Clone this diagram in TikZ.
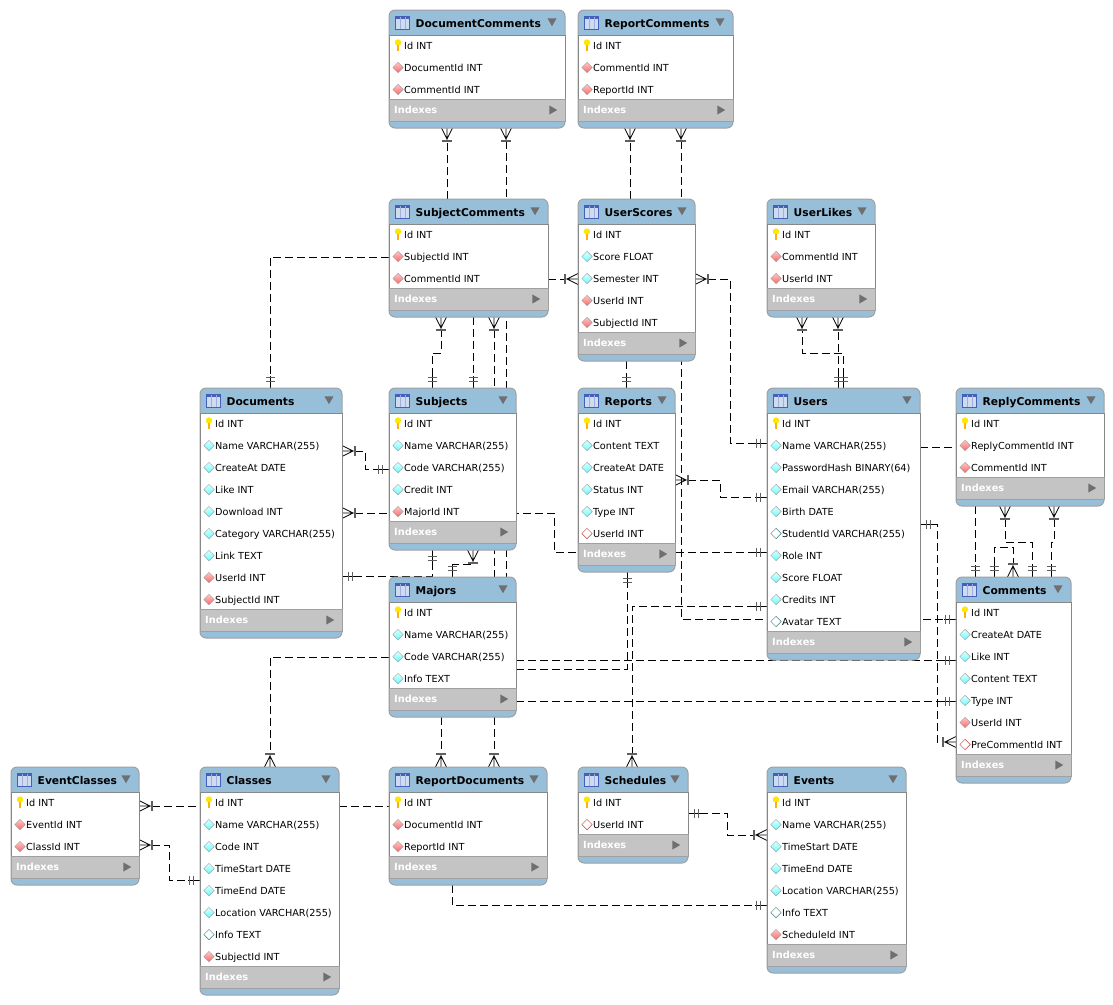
\documentclass[tikz,border=0pt]{standalone}
\usepackage{fontspec}
\setmainfont{DejaVu Sans}
\usepackage{tikz}
\usetikzlibrary{shapes.geometric, arrows.meta, positioning, calc}
\definecolor{dbblue}{RGB}{152,191,218}
\definecolor{dbgray}{RGB}{196,196,196}
\definecolor{dbedge}{RGB}{160,160,160}
\definecolor{dbside}{RGB}{135,135,135}
\definecolor{dbmark}{RGB}{95,95,95}
\definecolor{dbicon}{RGB}{70,95,185}
\definecolor{dbpale}{RGB}{205,220,240}
\pgfdeclarelayer{connectors}
\pgfsetlayers{connectors,main}

\pgfdeclarearrow{
  name=Crow,
  setup code={\pgfarrowssettipend{0pt}\pgfarrowssetlineend{-13pt}\pgfarrowssetbackend{-14pt}
    \pgfarrowshullpoint{0pt}{6pt}\pgfarrowshullpoint{0pt}{-6pt}\pgfarrowshullpoint{-14pt}{5pt}\pgfarrowshullpoint{-14pt}{-5pt}},
  drawing code={\pgfsetdash{}{0pt}\pgfsetlinewidth{0.8pt}
    \pgfpathmoveto{\pgfqpoint{0pt}{5.5pt}}\pgfpathlineto{\pgfqpoint{-11pt}{0pt}}\pgfpathlineto{\pgfqpoint{0pt}{-5.5pt}}
    \pgfpathmoveto{\pgfqpoint{-13pt}{0pt}}\pgfpathlineto{\pgfqpoint{0pt}{0pt}}\pgfusepathqstroke
    \pgfsetstrokecolor{dbmark}\pgfsetlinewidth{1.7pt}
    \pgfpathmoveto{\pgfqpoint{-13pt}{5pt}}\pgfpathlineto{\pgfqpoint{-13pt}{-5pt}}\pgfusepathqstroke}
}
\pgfdeclarearrow{
  name=Ones,
  setup code={\pgfarrowssettipend{0pt}\pgfarrowssetlineend{-12pt}\pgfarrowssetbackend{-13pt}
    \pgfarrowshullpoint{0pt}{4pt}\pgfarrowshullpoint{0pt}{-4pt}\pgfarrowshullpoint{-13pt}{4pt}\pgfarrowshullpoint{-13pt}{-4pt}},
  drawing code={\pgfsetdash{}{0pt}\pgfsetlinewidth{0.8pt}
    \pgfpathmoveto{\pgfqpoint{-12pt}{0pt}}\pgfpathlineto{\pgfqpoint{0pt}{0pt}}\pgfusepathqstroke
    \pgfsetstrokecolor{dbmark}\pgfsetlinewidth{1.3pt}
    \pgfpathmoveto{\pgfqpoint{-10.5pt}{4.5pt}}\pgfpathlineto{\pgfqpoint{-10.5pt}{-4.5pt}}
    \pgfpathmoveto{\pgfqpoint{-6.5pt}{4.5pt}}\pgfpathlineto{\pgfqpoint{-6.5pt}{-4.5pt}}\pgfusepathqstroke}
}

% name, left, top, width, number of rows, title, rows
\newcommand{\dbtable}[7]{%
  \node[tablebox, minimum width=#4, minimum height={52+22*#5}, anchor=north west] (#1) at (#2,#3) {};
  \draw[tablebody] ([yshift=-25]#1.north west) rectangle ([yshift={-(23+22*#5)}]#1.north east);
  \draw[tablebar] ([yshift={-(23+22*#5)}]#1.north west) rectangle ([yshift={-(45+22*#5)}]#1.north east);
  \node[tableicon] (#1-icon) at ([xshift=13.5,yshift=-12.5]#1.north west) {};
  \node[titletext] (#1-title) at ([xshift=26.5,yshift=-17]#1.north west) {#6};
  \node[toggle, shape border rotate=180] (#1-toggle) at ([xshift=-13,yshift=-11]#1.north east) {};
  \node[indextext] (#1-index) at ([xshift=5,yshift={-(37.5+22*#5)}]#1.north west) {Indexes};
  \node[toggle, shape border rotate=-90] (#1-more) at ([xshift=-13,yshift={-(34+22*#5)}]#1.north east) {};
  \foreach \kind/\txt [count=\i] in {#7} {
    \node[rowtext] (#1-\i) at ([xshift=15,yshift={-17.5-22*\i}]#1.north west) {\txt};
    \node[style=\kind] (#1-mark-\i) at ([xshift=9,yshift={-13.5-22*\i}]#1.north west) {};
  }
}

\begin{document}
\begin{tikzpicture}[
    x=1pt, y=-1pt,
    tablebox/.style={rectangle, rounded corners=6pt, draw=dbedge, fill=dbblue, line width=1pt, inner sep=0pt, outer sep=0pt},
    tablebody/.style={draw=dbside, fill=white, line width=0.8pt},
    tablebar/.style={draw=dbedge, fill=dbgray, line width=0.8pt},
    titletext/.style={anchor=base west, inner sep=0pt, font=\fontsize{10.7}{12}\selectfont\bfseries},
    indextext/.style={anchor=base west, inner sep=0pt, text=white, font=\fontsize{9.8}{12}\selectfont\bfseries},
    rowtext/.style={anchor=base west, inner sep=0pt, font=\fontsize{9.7}{12}\selectfont},
    toggle/.style={regular polygon, regular polygon sides=3, fill=dbmark!90, inner sep=0pt, minimum size=10.5pt},
    tableicon/.style={rectangle, draw=dbicon, fill=dbpale, line width=0.8pt, inner sep=0pt,
      minimum width=14.5pt, minimum height=13pt, path picture={
        \fill[dbicon] (path picture bounding box.north west) rectangle ([yshift=-2.5pt]path picture bounding box.north east);
        \draw[dbicon!50, line width=0.6pt] ([xshift=-2.5pt]path picture bounding box.north) -- ([xshift=-2.5pt]path picture bounding box.south)
          ([xshift=2.5pt]path picture bounding box.north) -- ([xshift=2.5pt]path picture bounding box.south);}},
    pkmark/.style={rectangle, inner sep=0pt, minimum width=7pt, minimum height=13pt, path picture={
        \fill[yellow!90!orange] ([yshift=3pt]path picture bounding box.center) ellipse [x radius=3.2pt, y radius=3.2pt];
        \fill[orange!60!yellow] ([xshift=-1.2pt,yshift=1pt]path picture bounding box.center) rectangle ([xshift=1.2pt,yshift=-5.5pt]path picture bounding box.center);}},
    dbmarkbase/.style={diamond, inner sep=0pt, minimum size=10.5pt, line width=0.5pt},
    colmark/.style={dbmarkbase, draw=gray!75, top color=cyan!12, bottom color=cyan!62},
    fkmark/.style={dbmarkbase, draw=gray!75, top color=red!22, bottom color=red!60},
    nnmark/.style={dbmarkbase, draw=teal!55!gray, fill=white},
    nfmark/.style={dbmarkbase, draw=red!50!gray, fill=white},
    rel/.style={black, line width=0.8pt, dash pattern=on 8pt off 4pt}
  ]
  \useasboundingbox (0,0) rectangle (1113,1004);

  \dbtable{DocumentComments}{389}{10}{176}{3}{DocumentComments}{pkmark/Id INT, fkmark/DocumentId INT, fkmark/CommentId INT}
  \dbtable{ReportComments}{578}{10}{155}{3}{ReportComments}{pkmark/Id INT, fkmark/CommentId INT, fkmark/ReportId INT}
  \dbtable{SubjectComments}{389}{199}{159}{3}{SubjectComments}{pkmark/Id INT, fkmark/SubjectId INT, fkmark/CommentId INT}
  \dbtable{UserScores}{578}{199}{117}{5}{UserScores}{pkmark/Id INT, colmark/Score FLOAT, colmark/Semester INT, fkmark/UserId INT, fkmark/SubjectId INT}
  \dbtable{UserLikes}{767}{199}{108}{3}{UserLikes}{pkmark/Id INT, fkmark/CommentId INT, fkmark/UserId INT}
  \dbtable{Documents}{200}{388}{142}{9}{Documents}{pkmark/Id INT, colmark/Name VARCHAR(255), colmark/CreateAt DATE, colmark/Like INT,
    colmark/Download INT, colmark/Category VARCHAR(255), colmark/Link TEXT, fkmark/UserId INT, fkmark/SubjectId INT}
  \dbtable{Subjects}{389}{388}{127}{5}{Subjects}{pkmark/Id INT, colmark/Name VARCHAR(255), colmark/Code VARCHAR(255), colmark/Credit INT, fkmark/MajorId INT}
  \dbtable{Reports}{578}{388}{97}{6}{Reports}{pkmark/Id INT, colmark/Content TEXT, colmark/CreateAt DATE, colmark/Status INT, colmark/Type INT, nfmark/UserId INT}
  \dbtable{Users}{767}{388}{153}{10}{Users}{pkmark/Id INT, colmark/Name VARCHAR(255), colmark/PasswordHash BINARY(64), colmark/Email VARCHAR(255),
    colmark/Birth DATE, nnmark/StudentId VARCHAR(255), colmark/Role INT, colmark/Score FLOAT, colmark/Credits INT, nnmark/Avatar TEXT}
  \dbtable{ReplyComments}{956}{388}{148}{3}{ReplyComments}{pkmark/Id INT, fkmark/ReplyCommentId INT, fkmark/CommentId INT}
  \dbtable{Comments}{956}{577}{115}{7}{Comments}{pkmark/Id INT, colmark/CreateAt DATE, colmark/Like INT, colmark/Content TEXT, colmark/Type INT,
    fkmark/UserId INT, nfmark/PreCommentId INT}
  \dbtable{Majors}{389}{577}{127}{4}{Majors}{pkmark/Id INT, colmark/Name VARCHAR(255), colmark/Code VARCHAR(255), colmark/Info TEXT}
  \dbtable{EventClasses}{11}{767}{128}{3}{EventClasses}{pkmark/Id INT, fkmark/EventId INT, fkmark/ClassId INT}
  \dbtable{Classes}{200}{767}{139}{8}{Classes}{pkmark/Id INT, colmark/Name VARCHAR(255), colmark/Code INT, colmark/TimeStart DATE, colmark/TimeEnd DATE,
    colmark/Location VARCHAR(255), nnmark/Info TEXT, fkmark/SubjectId INT}
  \dbtable{ReportDocuments}{389}{767}{158}{3}{ReportDocuments}{pkmark/Id INT, fkmark/DocumentId INT, fkmark/ReportId INT}
  \dbtable{Schedules}{578}{767}{110}{2}{Schedules}{pkmark/Id INT, nfmark/UserId INT}
  \dbtable{Events}{767}{767}{139}{7}{Events}{pkmark/Id INT, colmark/Name VARCHAR(255), colmark/TimeStart DATE, colmark/TimeEnd DATE,
    colmark/Location VARCHAR(255), nnmark/Info TEXT, fkmark/ScheduleId INT}

  \begin{pgfonlayer}{connectors}
    % top rows
    \draw[rel, -Crow] ([xshift=58]SubjectComments.north west) -- ([xshift=58]DocumentComments.south west);
    \draw[rel, Crow-] ([xshift=117]DocumentComments.south west) -- ([xshift=117]Majors.north west);
    \draw[rel, -Crow] ([xshift=52]UserScores.north west) -- ([xshift=52]ReportComments.south west);
    \draw[rel, Crow-Ones] ([xshift=103]ReportComments.south west) |- ([yshift=-42]Comments.north west);
    \draw[rel, Ones-Crow] ([xshift=76]Users.north west) -- ++(0,-35) -| ([xshift=35]UserLikes.south west);
    \draw[rel, Ones-Crow] ([xshift=71]Users.north west) -- ([xshift=71]UserLikes.south west);
    \draw[rel, Ones-Crow] ([xshift=43]Subjects.north west) -- ++(0,-35) -| ([xshift=52]SubjectComments.south west);
    \draw[rel, -Ones] ([xshift=84]SubjectComments.south west) -- ([xshift=84]Subjects.north west);
    \draw[rel, Crow-] ([xshift=105]SubjectComments.south west) -- ([xshift=105]Majors.north west);
    \draw[rel, -Crow] ([yshift=-80]SubjectComments.north east) -- ([yshift=-80]UserScores.north west);
    \draw[rel, Crow-Ones] ([yshift=-80]UserScores.north east) -- ++(35,0) |- ([yshift=-55]Users.north west);
    \draw[rel, -Ones] ([xshift=48]UserScores.south west) -- ([xshift=48]Reports.north west);
    \draw[rel, -Ones] ([yshift=-58]SubjectComments.north west) -| ([xshift=70]Documents.north west);
    % middle rows
    \draw[rel, Ones-Ones] ([yshift=-188]Documents.north east) -| ([xshift=43]Subjects.south west);
    \draw[rel, Ones-Crow] ([xshift=63]Majors.north west) -- ++(0,-13) -| ([xshift=84]Subjects.south west);
    \draw[rel, Crow-Ones] ([yshift=-63]Documents.north east) -- ++(23,0) |- ([yshift=-81]Subjects.north west);
    \draw[rel, Crow-Ones] ([yshift=-125]Documents.north east) -- ++(212,0) |- ([yshift=-164]Users.north west);
    \draw[rel, Crow-Ones] ([yshift=-92]Reports.north east) -- ++(45,0) |- ([yshift=-109]Users.north west);
    \draw[rel] ([yshift=-59]Users.north east) -- ([yshift=-59]ReplyComments.north west);
    \draw[rel, Ones-Crow] ([yshift=-136]Users.north east) -- ++(17,0) |- ([yshift=-165]Comments.north west);
    \draw[rel, -Ones] ([xshift=19]ReplyComments.south west) -- ([xshift=19]Comments.north west);
    \draw[rel, Crow-Ones] ([xshift=49]ReplyComments.south west) -- ++(0,36) -| ([xshift=76]Comments.north west);
    \draw[rel, Crow-Ones] ([xshift=98]ReplyComments.south west) -- ++(0,36) -| ([xshift=95]Comments.north west);
    \draw[rel, Ones-Crow] ([xshift=38]Comments.north west) -- ++(0,-30) -| ([xshift=57]Comments.north west);
    \draw[rel, -Ones] ([yshift=-83]Majors.north east) -- ([yshift=-83]Comments.north west);
    \draw[rel, -Ones] ([yshift=-92]Majors.north east) -| ([xshift=49]Reports.south west);
    \draw[rel, -Ones] ([yshift=-124]Majors.north east) -- ([yshift=-124]Comments.north west);
    \draw[rel, Ones-Crow] ([yshift=-218]Users.north west) -| ([xshift=54]Schedules.north west);
    % bottom rows
    \draw[rel, -Crow] ([yshift=-80]Majors.north west) -| ([xshift=70]Classes.north west);
    \draw[rel, -Crow] ([xshift=52]Majors.south west) -- ([xshift=52]ReportDocuments.north west);
    \draw[rel, -Crow] ([xshift=105]Majors.south west) -- ([xshift=105]ReportDocuments.north west);
    \draw[rel] ([yshift=-39]Classes.north east) -- ([yshift=-39]ReportDocuments.north west);
    \draw[rel, Crow-] ([yshift=-39]EventClasses.north east) -- ([yshift=-39]Classes.north west);
    \draw[rel, Crow-Ones] ([yshift=-78]EventClasses.north east) -- ++(30,0) |- ([yshift=-113]Classes.north west);
    \draw[rel, Ones-Crow] ([yshift=-46]Schedules.north east) -- ++(39,0) |- ([yshift=-68]Events.north west);
    \draw[rel, -Ones] ([xshift=63]ReportDocuments.south west) |- ([yshift=-138]Events.north west);
  \end{pgfonlayer}
\end{tikzpicture}
\end{document}
